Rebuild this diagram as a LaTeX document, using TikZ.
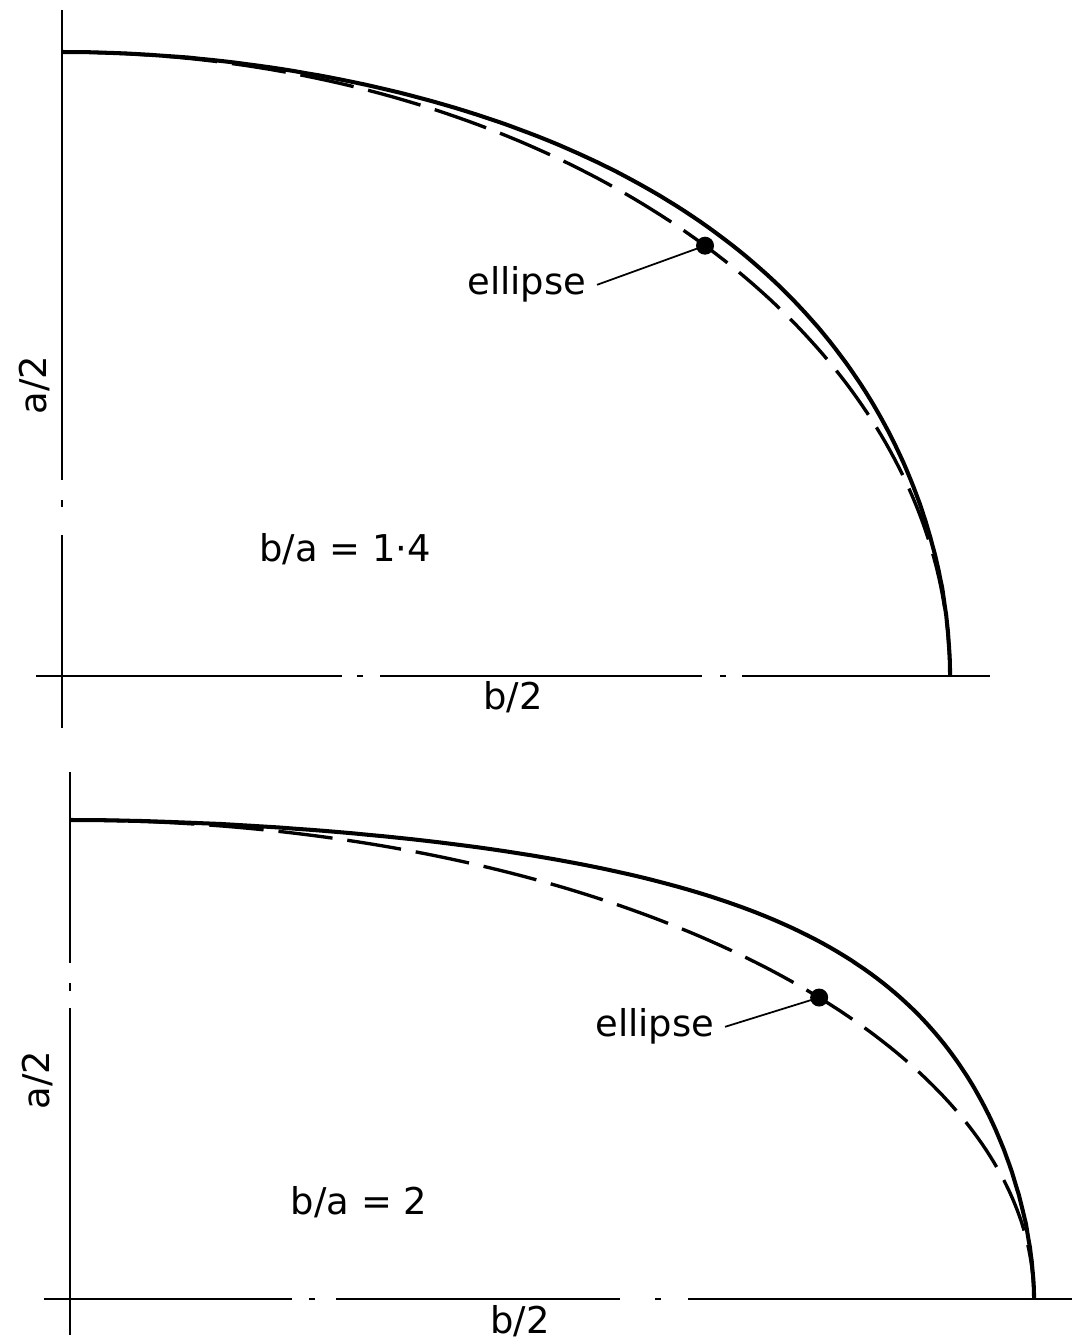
\documentclass[tikz,border=0pt]{standalone}
\usepackage{fontspec}
\setmainfont{DejaVu Sans}

\tikzset{
  axisline/.style={line width=1.3pt},
  solidcurve/.style={line width=2.3pt},
  ellcurve/.style={line width=1.9pt, dash pattern=on 31pt off 8.5pt},
  leader/.style={line width=1pt},
  lbl/.style={font=\fontsize{21}{25}\selectfont, inner sep=0pt},
}

\begin{document}
\begin{tikzpicture}[x=0.02cm, y=0.02cm]
\useasboundingbox (0,0) rectangle (1074,1340);

% upper plot, b/a = 1.4
\coordinate (oA) at (62,664);
\foreach \p/\q in {36/342, 357/363, 380/702, 720/726, 742/990}
  \draw[axisline] (\p,664) -- (\q,664);
\foreach \p/\q in {612/805, 833/840, 860/1330}
  \draw[axisline] (62,\p) -- (62,\q);
\draw[solidcurve] (950,664) -- plot[domain=0.2:89.8, samples=120]
  ({62+888*pow(cos(\x),2/(2+0.14*sin(2*\x)))}, {664+624*pow(sin(\x),2/(2+0.14*sin(2*\x)))})
  -- (62,1288);
\draw[ellcurve] plot[domain=0:90, samples=120] ({62+888*cos(\x)}, {664+624*sin(\x)});
\coordinate (dotA) at ({62+888*cos(43.6)}, {664+624*sin(43.6)});
\fill (dotA) circle[radius=0.18cm];
\node[lbl, anchor=base west] (ellA) at (467,1045) {ellipse};
\draw[leader] ([xshift=6pt]ellA.east) -- (dotA);
\node[lbl, rotate=90] (aA) at (35,955) {a/2};
\node[lbl] (bA) at (513,643) {b/2};
\node[lbl] (ratioA) at (345,791) {b/a = 1·4};

% lower plot, b/a = 2
\coordinate (oB) at (70,41);
\foreach \p/\q in {44/292, 309/315, 336/620, 655/661, 688/1072}
  \draw[axisline] (\p,41) -- (\q,41);
\foreach \p/\q in {5/332, 349/357, 377/568}
  \draw[axisline] (70,\p) -- (70,\q);
\draw[solidcurve] (1034,41) -- plot[domain=0.2:89.8, samples=120]
  ({70+964*pow(cos(\x),2/(2+0.55*sin(2*\x)))}, {41+479*pow(sin(\x),2/(2+0.55*sin(2*\x)))})
  -- (70,520);
\draw[ellcurve] plot[domain=0:90, samples=120] ({70+964*cos(\x)}, {41+479*sin(\x)});
\coordinate (dotB) at ({70+964*cos(39)}, {41+479*sin(39)});
\fill (dotB) circle[radius=0.18cm];
\node[lbl, anchor=base west] (ellB) at (595,303) {ellipse};
\draw[leader] ([xshift=6pt]ellB.east) -- (dotB);
\node[lbl, rotate=90] (aB) at (38,260) {a/2};
\node[lbl] (bB) at (520,19) {b/2};
\node[lbl] (ratioB) at (359,138) {b/a = 2};
\end{tikzpicture}
\end{document}
